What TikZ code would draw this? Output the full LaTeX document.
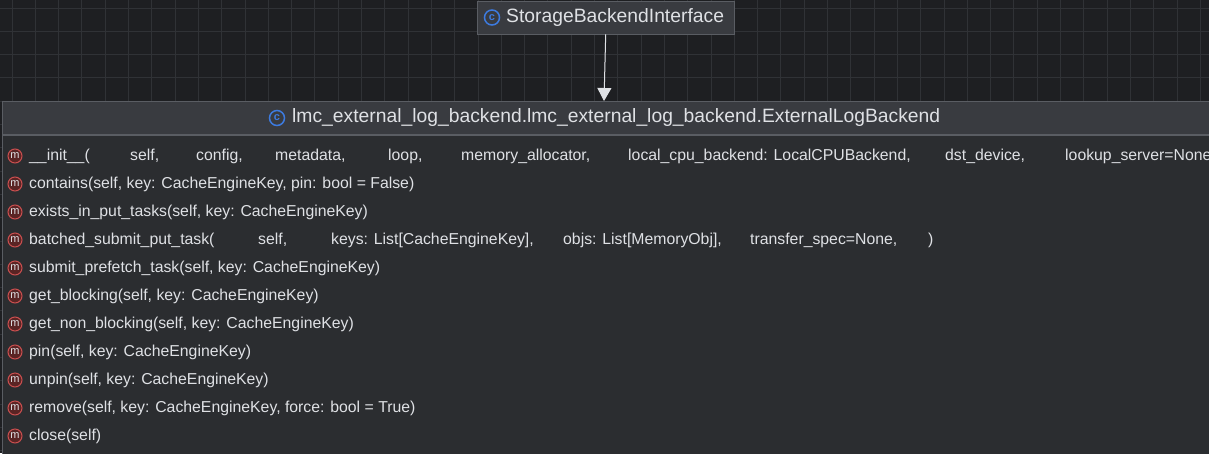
\documentclass[tikz,border=0pt]{standalone}
\usepackage{fontspec}
\setmainfont{Liberation Sans}
\usetikzlibrary{arrows.meta}
\definecolor{bg}{HTML}{1E1F22}
\definecolor{gridc}{HTML}{303236}
\definecolor{boxbg}{HTML}{2B2D30}
\definecolor{hdrbg}{HTML}{393B40}
\definecolor{edge}{HTML}{5A5D63}
\definecolor{txt}{HTML}{DFE1E5}
\definecolor{cblue}{HTML}{3D7BE0}
\definecolor{mred}{HTML}{C94F4F}
\tikzset{
  mtxt/.style={anchor=west,text=txt,font=\fontsize{15.8}{16}\selectfont,inner sep=0pt},
  micon/.style={circle,draw=mred,line width=1pt,fill=mred!45!black,text=txt,inner sep=0pt,minimum size=14pt,font=\fontsize{11}{11}\selectfont},
  cicon/.style={circle,draw=cblue,line width=1.5pt,text=cblue,inner sep=0pt,minimum size=15pt,font=\bfseries\fontsize{11}{11}\selectfont}
}
\begin{document}
\begin{tikzpicture}[x=1pt,y=-1pt]
\useasboundingbox (0,0) rectangle (1209,453);
\fill[bg] (0,0) rectangle (1209,453);
\foreach \i in {0,...,52} \draw[gridc,line width=1pt] (\i*23.3+12,0) -- (\i*23.3+12,453);
\foreach \j in {0,...,20} \draw[gridc,line width=1pt] (0,\j*23.3+8) -- (1209,\j*23.3+8);
% top node
\node[draw=edge,fill=hdrbg,minimum width=257pt,minimum height=33pt,anchor=north west,inner sep=0pt] (sbi) at (477,1) {};
\node[cicon] (ic1) at (492,17.5) {c};
\node[anchor=west,text=txt,font=\fontsize{19.3}{20}\selectfont,inner sep=0pt] (sbit) at (506,17.5) {StorageBackendInterface};
% main box
\fill[boxbg] (2,135) rectangle (1212,455);
\node[fill=hdrbg,minimum width=1210pt,minimum height=34pt,anchor=north west,inner sep=0pt] (hdr) at (2,101) {};
\draw[edge] (2,455) -- (2,101) -- (1212,101);
\draw[edge,line width=1.5pt] (2,135) -- (1212,135);
\node[cicon] (ic2) at (277,118) {c};
\node[anchor=west,text=txt,font=\fontsize{19.3}{20}\selectfont,inner sep=0pt] (ht) at (292,118) {lmc\_external\_log\_backend.lmc\_external\_log\_backend.ExternalLogBackend};
\draw[-{Triangle[width=14pt,length=13pt]},draw=txt,fill=txt,line width=1pt] (sbi.south) -- (604,101);
% methods
\begin{scope}
\clip (2,135) rectangle (1209,453);
\foreach \y/\t [count=\k] in {
 184/{contains(self, key: CacheEngineKey, pin: bool = False)},
 212/{exists\_in\_put\_tasks(self, key: CacheEngineKey)},
 268/{submit\_prefetch\_task(self, key: CacheEngineKey)},
 296/{get\_blocking(self, key: CacheEngineKey)},
 324/{get\_non\_blocking(self, key: CacheEngineKey)},
 352/{pin(self, key: CacheEngineKey)},
 380/{unpin(self, key: CacheEngineKey)},
 408/{remove(self, key: CacheEngineKey, force: bool = True)},
 436/{close(self)}}
 { \node[micon] (mi\k) at (15,\y) {m}; \node[mtxt] (mt\k) at (29,\y) {\t}; }
\node[micon] (mia) at (15,156) {m};
\foreach \x/\t [count=\k] in {29/{\_\_init\_\_(},130/{self,},196/{config,},275/{metadata,},388/{loop,},461/{memory\_allocator,},628/{local\_cpu\_backend: LocalCPUBackend,},945/{dst\_device,},1065/{lookup\_server=None}}
 \node[mtxt] (ia\k) at (\x,156) {\t};
\node[micon] (mib) at (15,240) {m};
\foreach \x/\t [count=\k] in {29/{batched\_submit\_put\_task(},258/{self,},331/{keys: List[CacheEngineKey],},563/{objs: List[MemoryObj],},750/{transfer\_spec=None,},928/{)}}
 \node[mtxt] (ib\k) at (\x,240) {\t};
\end{scope}
\end{tikzpicture}
\end{document}
